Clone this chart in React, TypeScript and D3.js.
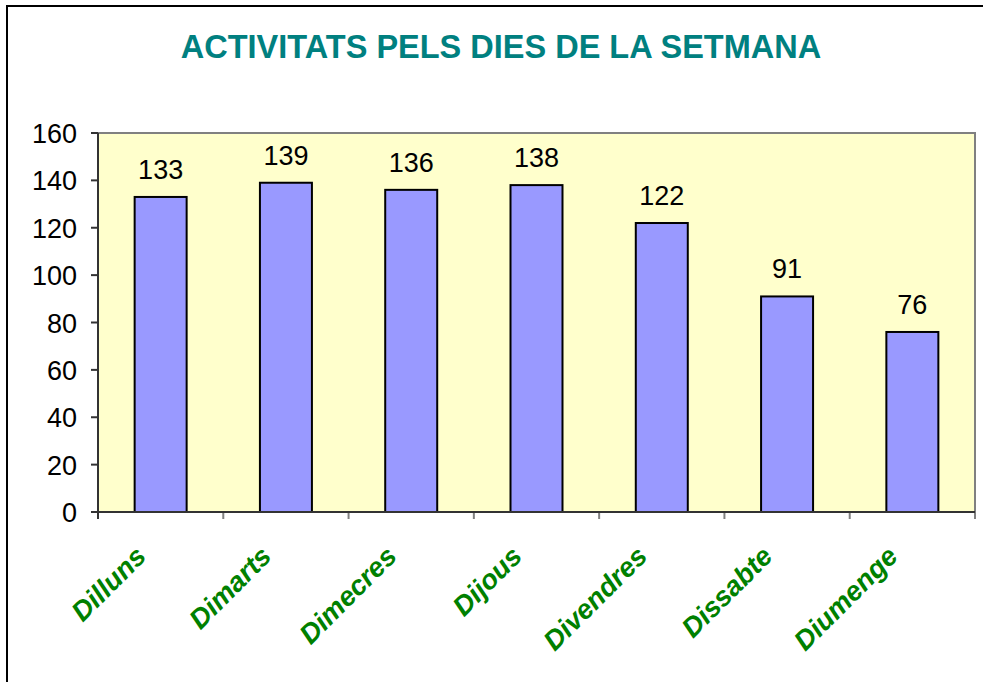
import React from "react";
import * as d3 from "d3";

const categories = ["Dilluns", "Dimarts", "Dimecres", "Dijous", "Divendres", "Dissabte", "Diumenge"];
const values = [133, 139, 136, 138, 122, 91, 76];
const yTicks = [0, 20, 40, 60, 80, 100, 120, 140, 160];
const title = "ACTIVITATS PELS DIES DE LA SETMANA";

export default function App() {
  const W = 983, H = 682;
  const left = 98, right = 975, top = 133, bottom = 512;
  const x = d3.scaleBand<string>().domain(categories).range([left, right]).paddingInner(0).paddingOuter(0);
  const y = d3.scaleLinear().domain([0, 160]).range([bottom, top]);
  const bw = x.bandwidth() * 0.415;
  const font = "Arial, 'Liberation Sans', sans-serif";
  return (
    <svg width={W} height={H} style={{ position: "absolute", left: 0, top: 0 }} fontFamily={font}>
      <rect x={0} y={0} width={W} height={H} fill="#fff" />
      <rect x={7} y={6} width={W + 10} height={H + 10} fill="none" stroke="#000" strokeWidth={2} />
      <text x={501} y={58} textAnchor="middle" fontSize={32.5} fontWeight="bold" fill="#008080">{title}</text>
      <rect x={left} y={top} width={right - left} height={bottom - top} fill="#FFFFCC" stroke="#808080" strokeWidth={2} />
      {categories.map((c, i) => {
        const cx = x(c)! + x.bandwidth() / 2;
        return (
          <g key={c}>
            <rect x={cx - bw / 2} y={y(values[i])} width={bw} height={bottom - y(values[i])} fill="#9999FF" stroke="#000" strokeWidth={2} />
            <text x={cx} y={y(values[i]) - 18} textAnchor="middle" fontSize={27} fill="#000">{values[i]}</text>
            <text transform={`translate(${cx - 13},${558}) rotate(-45)`} textAnchor="end" fontSize={27.5} fontWeight="bold" fontStyle="italic" fill="#008000">{c}</text>
          </g>
        );
      })}
      {x.domain().map((c, i) => (
        <line key={"t" + i} x1={x(c)!} x2={x(c)!} y1={bottom} y2={bottom + 7} stroke="#808080" strokeWidth={2} />
      ))}
      <line x1={right} x2={right} y1={bottom} y2={bottom + 7} stroke="#808080" strokeWidth={2} />
      <line x1={left} x2={right} y1={bottom} y2={bottom} stroke="#333" strokeWidth={2} />
      <line x1={left} x2={left} y1={top} y2={bottom + 7} stroke="#333" strokeWidth={2} />
      {yTicks.map((t) => (
        <g key={t}>
          <line x1={left - 7} x2={left} y1={y(t)} y2={y(t)} stroke="#333" strokeWidth={2} />
          <text x={77} y={y(t) + 10} textAnchor="end" fontSize={27} fill="#000">{t}</text>
        </g>
      ))}
    </svg>
  );
}
